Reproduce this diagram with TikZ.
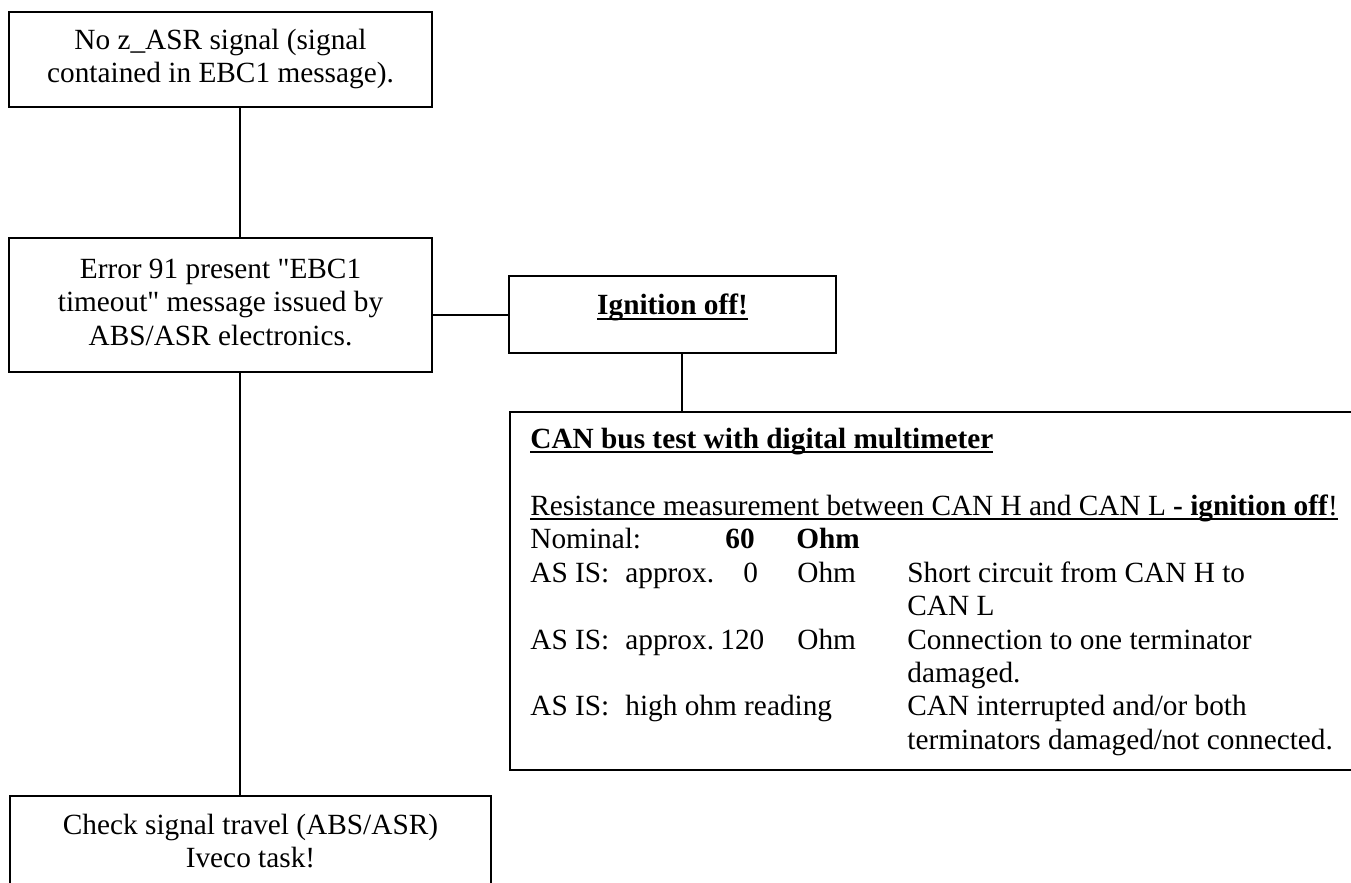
\documentclass[tikz,border=0pt]{standalone}
\usepackage{fontspec}
\setmainfont{Liberation Serif}[Ligatures=TeXOff]
\newsavebox{\ulinebox}
\newcommand{\ulinetext}[1]{\sbox{\ulinebox}{#1}\rlap{\rule[-2.6pt]{\wd\ulinebox}{0.9pt}}\usebox{\ulinebox}}
\newcommand{\tabat}[2]{\rlap{\hspace*{#1pt}#2}}

\begin{document}
\begin{tikzpicture}[x=0.5pt, y=-0.5pt,
        font=\fontsize{14.65pt}{16.75pt}\selectfont,
        flowbox/.style={draw, line width=1pt, inner sep=0pt},
        link/.style={line width=1pt}]
    \useasboundingbox (0,0) rectangle (1351,883);

    \coordinate (spine) at (240,0);
    \coordinate (drop) at (682,0);

    \node[flowbox, minimum width=211.5pt, minimum height=47.5pt, align=center] (nosignal) at (220.5,59.5)
        {\strut No z\_ASR signal (signal\\\strut contained in EBC1 message).};
    \node[flowbox, minimum width=211.5pt, minimum height=67pt, align=center] (error) at (220.5,305)
        {\strut Error 91 present "EBC1\\\strut timeout" message issued by\\\strut ABS/ASR electronics.};
    \node[flowbox, minimum width=163.5pt, minimum height=38.5pt, text height=8pt, text depth=8pt] (ignition) at (672.5,314.5)
        {\textbf{\ulinetext{Ignition off!}}};
    \node[flowbox, anchor=north west, minimum width=422pt, minimum height=179pt] (canbox) at (509,411) {};
    \node[anchor=base west, inner sep=0pt, text width=405pt, align=left] (cantext) at (530,448)
        {\spaceskip=0pt\xspaceskip=0pt
         \strut\textbf{\ulinetext{CAN bus test with digital multimeter}}\\
         \strut\\
         \strut\ulinetext{Resistance measurement between CAN H and CAN L \textbf{- ignition off}!}\\
         \strut\tabat{0}{Nominal:}\tabat{97.5}{\textbf{60}}\tabat{133}{\textbf{Ohm}}\\
         \strut\tabat{0}{AS IS:}\tabat{47.5}{approx.}\tabat{106.5}{0}\tabat{133.5}{Ohm}\tabat{188.5}{Short circuit from CAN H to}\\
         \strut\tabat{188.5}{CAN L}\\
         \strut\tabat{0}{AS IS:}\tabat{47.5}{approx.}\tabat{95}{120}\tabat{133.5}{Ohm}\tabat{188.5}{Connection to one terminator}\\
         \strut\tabat{188.5}{damaged.}\\
         \strut\tabat{0}{AS IS:}\tabat{47.5}{high ohm reading}\tabat{188.5}{CAN interrupted and/or both}\\
         \strut\tabat{188.5}{terminators damaged/not connected.}};
    \node[flowbox, anchor=north west, minimum width=240.5pt, minimum height=48.25pt, align=center] (check) at (9,795)
        {\strut Check signal travel (ABS/ASR)\\\strut Iveco task!};

    \draw[link] (nosignal.south -| spine) -- (error.north -| spine);
    \draw[link] (error.east |- ignition.west) -- (ignition.west);
    \draw[link] (ignition.south -| drop) -- (canbox.north -| drop);
    \draw[link] (error.south -| spine) -- (check.north -| spine);
\end{tikzpicture}
\end{document}
